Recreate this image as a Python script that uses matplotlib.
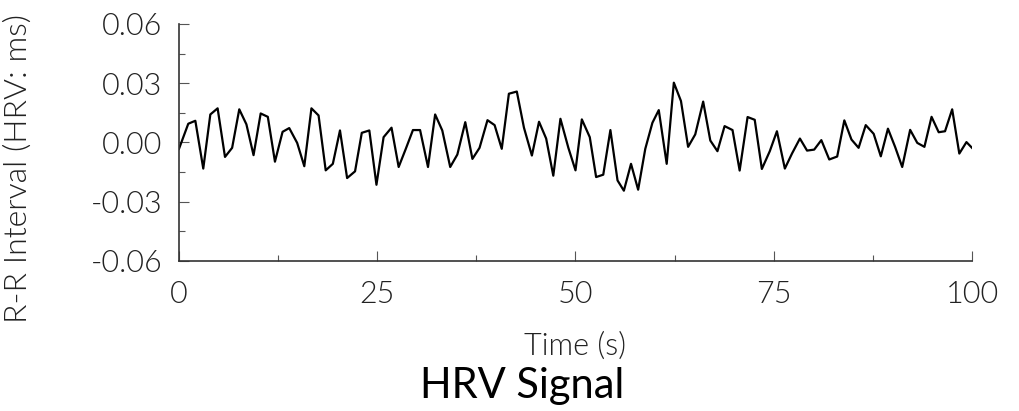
import matplotlib
matplotlib.use("Agg")
import matplotlib.pyplot as plt
from matplotlib.ticker import MultipleLocator, FormatStrFormatter

time_s = [0, 1.17, 2.06, 3.06, 3.95, 4.87, 5.8, 6.7, 7.6, 8.5, 9.4, 10.3, 11.2, 12.1,
          13.06, 13.9, 14.9, 15.8, 16.7, 17.6, 18.5, 19.4, 20.3, 21.2, 22.2, 23.05, 24.0, 24.9,
          25.8, 26.8, 27.7, 28.6, 29.5, 30.4, 31.4, 32.3, 33.2, 34.2, 35.1, 36.1, 37.0, 37.9,
          38.9, 39.8, 40.7, 41.6, 42.6, 43.5, 44.5, 45.4, 46.3, 47.2, 48.1, 49.1, 50.0,
          50.8, 51.8, 52.6, 53.5, 54.4, 55.3, 56.1, 57.0, 57.9, 58.8, 59.7, 60.5, 61.5, 62.4,
          63.3, 64.2, 65.1, 66.1, 67.0, 67.9, 68.8, 69.8, 70.7, 71.7, 72.6, 73.5, 74.5, 75.4,
          76.4, 77.3, 78.3, 79.2, 80.1, 81.0, 82.0, 83.0, 83.9, 84.8, 85.7, 86.6, 87.6, 88.5,
          89.4, 90.3, 91.2, 92.2, 93.1, 94.0, 94.9, 95.8, 96.6, 97.5, 98.4, 99.3, 100]

rr_interval = [-0.0032, 0.0095, 0.011, -0.0132, 0.0142, 0.0173, -0.0073, -0.0027, 0.0168, 0.0092,
               -0.0064, 0.0147, 0.013, -0.0097, 0.0054, 0.0073, -0.0002, -0.012, 0.0173, 0.0137,
               -0.0141, -0.0108, 0.0061, -0.018, -0.0146, 0.0049, 0.0061, -0.0214,
               0.0027, 0.0075, -0.0124, -0.0032, 0.0063, 0.0063, -0.0124, 0.0142, 0.0061, -0.0124,
               -0.0061, 0.0103, -0.0083, -0.0027, 0.0113, 0.0088, -0.0032, 0.0247, 0.0258, 0.0075,
               -0.0066, 0.0105, 0.002, -0.0168, 0.012, -0.0027, -0.0141,
               0.0117, 0.0027, -0.0175, -0.0163, 0.0063, -0.0192, -0.0244, -0.0108, -0.0239, -0.0032,
               0.01, 0.0164, -0.0108, 0.0303, 0.021, -0.0022, 0.0041, 0.0207, 0.001, -0.0044,
               0.0083, 0.0063, -0.0142, 0.0129, 0.0115, -0.0134, -0.0044, 0.0057,
               -0.0132, -0.0056, 0.002, -0.0041, -0.0036, 0.0012, -0.0086, -0.0071, 0.0112, 0.0015,
               -0.0027, 0.0088, 0.0044, -0.007, 0.007, -0.0022, -0.0124, 0.0064, -0.0002, -0.0022,
               0.013, 0.0052, 0.0057, 0.0168, -0.0056, 0.0002, -0.0027]

x_ticks = [0, 25, 50, 75, 100]
y_ticks = [-0.06, -0.03, 0.00, 0.03, 0.06]

plt.rcParams['font.family'] = ['Lato', 'DejaVu Sans']
W = 300  # light weight
TXT = '#222222'

fig = plt.figure(figsize=(10.2, 4.11), dpi=100)
ax = fig.add_axes([179/1020, 1 - 261/411, (972-179)/1020, (261-24)/411])

ax.plot(time_s, rr_interval, color='black', lw=1.6)

ax.set_xlim(0, 100)
ax.set_ylim(-0.06, 0.06)
ax.set_xticks(x_ticks)
ax.set_yticks(y_ticks)
ax.xaxis.set_minor_locator(MultipleLocator(12.5))
ax.yaxis.set_minor_locator(MultipleLocator(0.015))
ax.yaxis.set_major_formatter(FormatStrFormatter('%.2f'))

for s in ['top', 'right']:
    ax.spines[s].set_visible(False)
for s in ['left', 'bottom']:
    ax.spines[s].set_linewidth(1.2)
    ax.spines[s].set_color('#333333')

ax.tick_params(which='major', direction='in', length=7, width=0.8, color='#555555')
ax.tick_params(which='minor', direction='in', length=4, width=0.8, color='#555555')
ax.tick_params(axis='x', which='major', labelsize=22, pad=14, labelcolor=TXT)
ax.tick_params(axis='y', which='major', labelsize=22, pad=12, labelcolor=TXT)
for lab in ax.get_xticklabels() + ax.get_yticklabels():
    lab.set_fontweight(W)

ax.set_xlabel('Time (s)', fontsize=22, fontweight=W, color=TXT, labelpad=16)
ax.set_ylabel('R-R Interval (HRV: ms)', fontsize=23, fontweight=W, color=TXT)
ax.yaxis.set_label_coords(-0.184, 0.39)

fig.text(0.512, 0.032, 'HRV Signal', fontsize=30, ha='center', va='baseline', color='black')

fig.savefig('out.png', dpi=100)
